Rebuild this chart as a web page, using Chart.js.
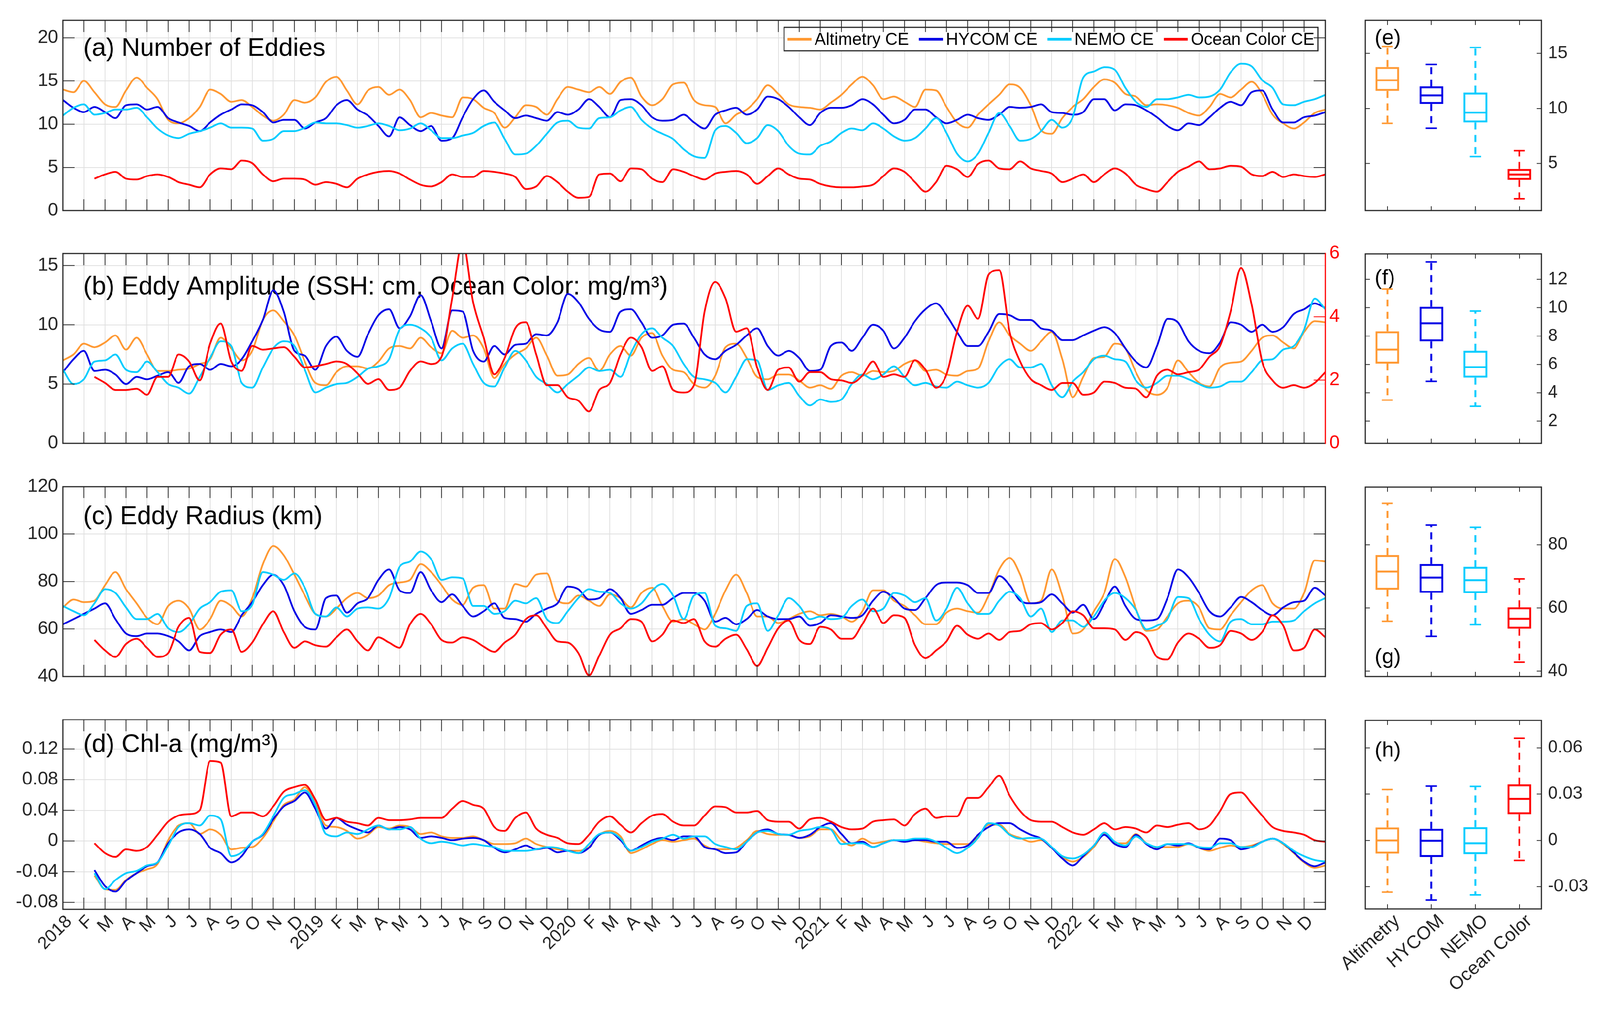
<!DOCTYPE html>
<html>
<head>
<meta charset="utf-8">
<script src="https://cdn.jsdelivr.net/npm/chart.js@4.4.1/dist/chart.umd.min.js"></script>
<style>
  html, body { margin: 0; padding: 0; background: #ffffff; overflow: hidden; }
  #fig { position: relative; width: 4146px; height: 2619px; background: #ffffff; overflow: hidden; transform-origin: 0 0; }
  #fig canvas { position: absolute; display: block; }
</style>
</head>
<body>
<div id="fig">
  <canvas id="chart-a" width="3530" height="600" style="left:0;top:0"></canvas>
  <canvas id="chart-b" width="3530" height="600" style="left:0;top:600px"></canvas>
  <canvas id="chart-c" width="3530" height="600" style="left:0;top:1200px"></canvas>
  <canvas id="chart-d" width="3530" height="819" style="left:0;top:1800px"></canvas>
  <canvas id="chart-e" width="706" height="600" style="left:3440px;top:0"></canvas>
  <canvas id="chart-f" width="706" height="600" style="left:3440px;top:600px"></canvas>
  <canvas id="chart-g" width="706" height="600" style="left:3440px;top:1200px"></canvas>
  <canvas id="chart-h" width="706" height="819" style="left:3440px;top:1800px"></canvas>
</div>
<script>
/* ==========================================================================
   Eddy statistics 2018-2022: time series (a-d) and box plots (e-h)
   ========================================================================== */

// x position of every sample, in months since Jan 2018 (half-month steps)
const halfMonths = [0,0.5,1,1.5,2,2.5,3,3.5,4,4.5,5,5.5,6,6.5,7,7.5,8,8.5,9,9.5,
  10,10.5,11,11.5,12,12.5,13,13.5,14,14.5,15,15.5,16,16.5,17,17.5,18,18.5,19,19.5,
  20,20.5,21,21.5,22,22.5,23,23.5,24,24.5,25,25.5,26,26.5,27,27.5,28,28.5,29,29.5,
  30,30.5,31,31.5,32,32.5,33,33.5,34,34.5,35,35.5,36,36.5,37,37.5,38,38.5,39,39.5,
  40,40.5,41,41.5,42,42.5,43,43.5,44,44.5,45,45.5,46,46.5,47,47.5,48,48.5,49,49.5,
  50,50.5,51,51.5,52,52.5,53,53.5,54,54.5,55,55.5,56,56.5,57,57.5,58,58.5,59,59.5,60];

const years = ["2018", "2019", "2020", "2021", "2022"];
const monthLetters = ["F", "M", "A", "M", "J", "J", "A", "S", "O", "N", "D"];

const seriesLabels = ["Altimetry CE", "HYCOM CE", "NEMO CE", "Ocean Color CE"];
const boxCategories = ["Altimetry", "HYCOM", "NEMO", "Ocean Color"];

// (a) Number of eddies
const aAlt = [14.0,13.7,15.0,13.7,12.3,12.0,13.9,15.4,14.2,12.9, 10.5,10.1,10.7,12.0,14.0,13.5,12.6,12.8,12.0,11.0,
  10.4,11.1,12.8,12.5,13.1,14.9,15.5,13.9,12.3,13.9, 14.3,13.4,14.0,12.8,10.8,11.3,11.0,10.8,13.1,12.9,
  11.9,11.3,9.6,10.8,12.2,12.0,11.1,12.9,14.3,14.0, 13.7,14.3,13.5,14.9,15.4,13.2,12.2,12.9,14.6,14.8,
  12.8,12.2,12.0,10.1,11.1,11.7,12.9,14.5,13.5,12.3, 12.0,11.9,11.7,12.5,13.4,14.6,15.5,14.5,12.9,13.2,
  12.6,12.0,14.0,13.9,12.0,10.2,9.6,11.1,12.3,13.4, 14.6,14.2,12.2,9.3,8.9,10.7,12.0,12.9,14.3,15.2,
  14.8,13.5,13.2,12.2,12.3,12.2,11.9,11.3,11.0,12.0, 13.5,13.1,14.0,14.9,13.5,11.1,10.1,9.5,10.2,11.3, 11.7];
const aHycom = [12.8,11.9,11.4,12.0,11.4,10.7,12.2,12.3,11.7,12.0, 10.7,10.2,9.8,9.2,10.2,11.1,11.7,12.3,12.2,11.4,
  10.2,10.5,10.5,9.5,10.2,10.7,12.2,12.8,11.7,11.0, 9.8,8.6,10.8,9.9,9.2,9.8,8.1,8.4,10.8,12.9,
  13.9,12.6,11.6,10.7,11.0,10.7,10.4,11.4,11.1,11.7, 12.9,12.0,10.8,12.8,12.9,12.2,10.8,10.4,10.5,11.1,
  10.2,9.5,11.1,11.6,11.9,11.1,11.7,13.2,12.9,12.0, 10.8,9.9,11.3,11.9,11.9,12.2,12.9,12.3,11.1,10.1,
  10.5,11.7,11.7,10.8,10.1,10.5,11.1,10.7,10.5,11.1, 12.0,11.9,12.0,12.3,11.4,11.3,11.1,11.4,12.9,12.9,
  11.6,12.3,12.2,11.6,10.8,9.8,9.3,10.1,9.9,10.8, 11.9,12.6,12.2,13.7,13.9,11.7,10.2,10.2,10.8,11.0, 11.4];
const aNemo = [11.0,11.9,12.3,11.1,11.3,11.7,11.7,11.9,10.8,9.5, 8.7,8.4,8.9,9.2,9.6,10.1,9.6,9.6,9.5,8.1,
  8.3,9.2,9.2,9.6,10.2,10.1,10.1,9.9,9.6,9.8, 10.1,9.8,9.3,9.5,10.1,9.3,8.4,8.4,8.7,9.0,
  9.8,10.2,8.3,6.5,6.6,7.5,8.9,10.2,10.4,9.6, 9.5,10.7,10.8,11.6,12.0,10.5,9.5,8.9,8.3,7.1,
  6.3,6.1,9.3,9.8,9.0,7.8,8.4,9.9,9.2,7.5, 6.6,6.5,7.5,8.0,9.0,9.5,9.3,10.1,9.5,8.6,
  8.1,8.4,9.5,10.7,9.0,6.6,5.7,6.6,9.0,11.3, 9.8,8.1,8.3,9.2,10.5,9.6,10.8,15.4,16.1,16.6,
  16.3,14.2,12.6,12.0,12.9,12.9,13.1,13.4,13.1,13.2, 14.0,16.0,17.0,16.7,15.1,14.2,12.3,12.2,12.6,12.9, 13.4];
const aOcean = [null,null,null,3.7,4.2,4.5,3.7,3.6,4.0,4.2, 3.9,3.3,3.0,2.7,4.2,4.9,4.8,5.8,5.5,4.2,
  3.4,3.7,3.7,3.6,3.0,3.3,3.1,2.7,3.7,4.2, 4.5,4.6,4.3,3.6,3.0,2.8,3.3,4.2,3.9,3.9,
  4.6,4.5,4.3,3.9,2.5,2.8,4.0,3.3,2.2,1.5, 1.6,4.2,4.3,3.4,4.9,4.8,3.7,3.3,4.8,4.5,
  4.0,3.6,4.3,4.5,4.6,4.2,3.1,4.0,4.9,4.2, 3.7,3.6,3.1,2.8,2.7,2.7,2.8,3.0,4.0,4.9,
  4.5,3.3,2.2,3.3,5.2,4.8,3.9,5.4,5.8,4.9, 4.8,5.7,4.9,4.6,4.3,3.3,3.7,4.2,3.3,4.2,
  4.9,4.3,3.0,2.5,2.2,3.3,4.5,5.1,5.7,4.8, 4.9,5.2,5.1,4.2,4.0,4.5,3.9,4.2,4.0,3.9, 4.2];

// (b) Eddy amplitude: SSH in cm (left axis), ocean color in mg/m3 (right axis)
const bAlt = [7.0,7.5,8.4,8.1,8.5,9.1,7.9,8.9,7.5,6.1, 6.1,6.2,6.3,6.7,7.1,8.9,8.0,7.0,7.8,10.4,
  11.2,10.3,9.1,6.9,5.1,4.9,6.0,6.5,6.5,6.3, 6.9,8.0,8.2,8.0,8.9,8.1,7.6,9.5,8.9,9.1,
  8.0,5.5,6.7,7.5,8.0,8.9,7.4,5.7,5.8,6.7, 7.2,6.1,7.5,8.2,7.4,8.9,9.3,7.4,6.2,6.0,
  5.0,4.7,5.7,8.1,8.4,7.2,5.6,5.4,5.8,5.8, 5.3,4.7,4.9,4.6,5.7,6.0,5.7,6.1,6.0,6.1,
  6.7,7.0,6.1,6.2,5.8,5.7,6.1,6.3,8.6,10.2, 9.1,8.4,7.8,8.6,9.4,7.1,3.9,5.6,7.2,7.3,
  8.4,8.0,6.0,4.5,4.1,4.7,7.0,6.0,5.1,4.8, 6.4,6.8,6.9,7.8,8.9,9.1,8.5,8.0,9.4,10.3, 10.2];
const bHycom = [6.0,7.1,7.8,6.1,6.2,5.8,5.0,5.6,5.4,5.7, 6.0,5.1,6.5,6.7,6.2,6.7,6.5,7.1,8.6,10.4,
  12.9,11.1,7.8,7.4,6.2,8.2,9.0,7.8,7.3,9.2, 10.8,11.3,9.7,10.7,12.5,10.3,8.0,11.2,11.1,7.8,
  6.9,8.2,7.5,8.3,8.4,9.2,9.1,10.2,12.6,11.9, 10.5,9.6,9.4,11.1,11.3,10.2,8.9,9.1,10.0,10.1,
  8.9,7.5,7.1,7.8,8.3,9.1,9.7,8.2,7.4,7.8, 7.2,6.1,6.2,8.2,8.5,7.8,8.9,10.0,9.5,8.0,
  8.9,10.3,11.3,11.8,10.8,9.4,8.2,8.2,9.4,10.9, 10.8,10.4,10.4,9.7,9.5,8.7,8.7,9.1,9.5,9.8,
  9.3,8.0,6.9,6.4,8.2,10.5,10.2,8.6,7.8,7.6, 8.5,10.2,10.0,9.4,10.0,9.4,9.8,10.9,11.3,11.8, 11.4];
const bNemo = [6.2,5.0,5.4,6.9,7.0,7.5,6.2,6.0,6.9,6.0, 5.0,4.7,4.2,5.6,7.2,8.6,8.2,5.1,4.7,6.4,
  8.0,8.6,8.2,6.2,4.3,4.7,5.0,5.1,5.6,6.3, 6.5,7.1,9.6,10.0,9.7,8.9,7.0,8.0,8.4,6.7,
  5.1,4.8,6.4,7.8,7.0,5.6,5.0,4.3,5.0,5.7, 6.4,6.1,6.2,5.6,7.6,9.2,9.7,8.9,8.2,6.7,
  5.6,5.4,5.1,4.3,5.6,7.1,7.0,4.5,4.9,5.1, 4.0,3.2,3.7,3.5,3.7,5.0,5.8,5.4,5.8,6.5,
  5.6,4.9,5.1,4.8,4.7,5.2,4.9,4.7,5.1,6.5, 7.1,6.4,6.4,6.7,4.9,3.9,5.2,6.0,7.1,7.4,
  7.1,6.9,5.3,4.7,5.1,5.7,5.7,5.4,5.0,4.7, 4.8,5.2,5.2,6.0,7.0,7.1,7.9,8.2,9.6,12.2, 11.3];
const bOcean = [null,null,null,2.10,1.91,1.69,1.69,1.73,1.54,2.10, 2.10,2.81,2.59,1.99,3.15,3.79,2.59,2.29,3.08,2.96,
  3.00,3.04,2.74,2.40,2.44,2.51,2.59,2.51,2.21,1.88, 2.03,1.69,1.76,2.29,2.59,2.51,2.74,4.58,6.38,4.46,
  3.34,2.18,2.70,3.64,3.83,2.81,1.84,1.84,1.46,1.35, 1.01,1.69,1.91,2.81,3.34,3.04,2.29,2.44,1.69,1.61,
  1.84,4.16,5.10,4.58,3.53,3.64,2.40,1.69,2.33,2.40, 1.95,2.25,2.25,2.03,1.99,1.91,2.14,2.59,2.10,2.18,
  2.10,2.63,2.33,1.76,2.18,3.53,4.35,3.94,5.33,5.48, 3.53,2.59,2.03,1.84,1.69,1.91,1.91,1.54,1.61,1.95,
  1.91,1.76,1.73,1.46,2.14,2.33,2.18,2.25,2.33,2.74, 3.08,4.16,5.55,4.39,2.59,1.99,1.76,1.84,1.76,1.91, 2.25];

// (c) Eddy radius (km)
const cAlt = [69.1,72.4,71.3,71.9,78.5,84.0,76.8,70.8,64.7,62.0, 69.7,71.9,68.6,59.8,64.2,71.9,69.7,65.3,73.0,87.3,
  95.0,91.1,82.9,74.1,66.4,65.3,68.6,73.0,75.2,73.0, 74.1,78.5,79.6,80.7,87.3,84.0,78.5,72.4,70.2,77.4,
  78.5,68.6,68.6,79.0,77.9,82.9,83.4,71.9,70.8,74.1, 71.9,69.7,74.6,73.0,69.1,75.2,77.4,69.7,63.1,64.2,
  62.0,59.8,66.4,76.3,82.9,75.2,65.3,65.3,62.5,64.2, 66.4,67.5,65.8,66.4,65.3,63.1,67.5,76.3,76.3,71.9,
  69.7,65.8,62.0,62.0,66.9,68.6,67.5,66.9,74.1,85.1, 90.0,82.9,70.8,71.9,85.1,74.1,58.1,59.8,67.5,75.2,
  89.5,81.8,68.6,59.2,59.8,65.3,70.8,71.9,69.1,60.3, 59.8,65.8,71.3,76.3,78.5,70.8,68.6,68.6,75.2,88.9, 88.4];
const cHycom = [62.0,64.2,66.4,68.6,70.8,64.2,58.1,57.0,58.1,58.1, 57.0,54.8,51.0,57.0,58.7,59.8,58.7,65.8,71.3,78.5,
  82.9,78.5,67.5,60.9,59.8,73.0,74.1,66.9,70.8,73.0, 80.7,85.1,76.3,75.2,84.0,76.3,71.3,74.6,69.7,65.3,
  67.5,70.8,64.7,64.2,63.1,66.4,68.6,70.8,77.9,76.8, 72.4,73.0,76.8,73.0,66.4,68.0,70.2,70.2,73.0,75.2,
  75.2,71.9,63.1,64.7,62.0,64.2,68.0,65.3,64.2,64.2, 65.3,61.4,62.5,65.8,65.3,64.7,65.8,71.9,75.7,73.0,
  68.6,68.0,73.0,78.5,79.6,79.6,78.5,75.2,75.2,82.3, 78.5,71.9,70.8,71.3,74.6,70.8,66.9,70.2,64.2,70.8,
  77.9,69.7,64.2,63.6,64.2,73.0,85.1,81.8,75.2,67.5, 65.3,69.1,73.5,71.3,68.0,65.8,69.1,71.3,71.9,77.4, 74.1];
const cNemo = [69.7,67.5,65.8,70.8,76.8,75.2,69.1,64.2,64.2,66.4, 60.3,58.7,62.0,68.6,71.3,75.7,76.3,67.5,70.2,84.0,
  82.9,80.7,83.4,77.4,66.4,65.3,69.1,65.3,68.6,69.1, 68.6,73.0,86.2,88.4,92.7,89.5,80.7,81.8,81.3,69.7,
  69.7,66.4,67.5,71.9,70.8,73.0,64.2,62.5,67.5,73.0, 76.8,75.7,75.2,70.8,68.6,70.8,76.3,79.0,74.1,64.2,
  74.1,75.2,61.4,60.3,59.2,69.7,70.8,59.2,65.8,73.0, 69.7,64.2,65.3,64.2,64.7,69.7,72.4,67.5,68.6,75.2,
  74.1,71.3,73.0,63.6,68.6,77.4,70.8,66.4,66.4,71.9, 75.7,73.0,65.3,68.6,58.7,63.6,63.6,60.9,65.3,71.9,
  75.2,73.0,68.0,59.8,61.4,64.2,73.5,73.0,64.2,57.6, 54.8,63.1,64.2,62.0,62.0,63.1,63.1,63.6,67.5,70.8, 73.0];
const cOcean = [null,null,null,55.4,51.0,48.2,53.7,55.9,52.1,48.2, 49.9,60.9,64.7,50.4,49.9,57.6,59.8,50.4,54.3,62.0,
  67.5,58.7,52.1,54.8,53.2,52.6,56.5,59.8,54.8,51.0, 56.5,54.3,52.1,62.0,66.4,62.0,55.4,54.3,56.5,55.4,
  52.6,50.4,54.3,57.6,64.2,65.8,60.3,54.8,54.3,49.9, 40.5,48.8,57.6,60.3,64.2,63.1,54.8,57.6,63.6,62.5,
  64.2,54.8,52.6,55.9,57.6,51.5,44.4,52.1,60.3,63.6, 55.4,53.7,60.9,59.8,55.9,55.9,62.0,68.6,62.5,65.8,
  64.7,53.2,47.7,51.0,54.8,61.4,57.6,55.9,58.1,55.4, 58.7,59.2,62.0,62.5,59.8,62.5,67.5,65.8,60.3,60.3,
  59.8,55.4,58.7,56.5,48.2,47.1,54.3,58.1,55.9,52.1, 53.2,59.2,58.1,55.4,58.7,65.8,61.4,51.0,52.1,59.8, 56.5];

// (d) Chl-a anomaly (mg/m3)
const dAlt = [null,null,null,-0.045,-0.063,-0.064,-0.051,-0.042,-0.037,-0.030, 0.001,0.020,0.023,0.009,0.015,0.008,-0.011,-0.009,-0.008,0.004,
  0.025,0.047,0.054,0.070,0.049,0.020,0.018,0.013,0.003,0.008, 0.018,0.016,0.020,0.018,0.009,0.011,0.006,0.004,0.004,0.006,
  0.001,-0.004,-0.004,-0.003,0.003,-0.004,-0.008,-0.011,-0.013,-0.013, -0.008,0.008,0.013,0.006,-0.016,-0.011,-0.004,0.001,-0.001,0.001,
  0.003,-0.006,-0.011,-0.011,-0.009,0.001,0.013,0.009,0.008,0.008, 0.004,0.006,0.015,0.015,0.001,-0.006,0.003,-0.003,-0.001,0.001,
  -0.001,0.001,-0.001,-0.003,-0.004,-0.004,-0.004,0.006,0.021,0.021, 0.009,0.004,-0.001,0.001,-0.009,-0.021,-0.027,-0.021,-0.008,0.009,
  -0.003,-0.003,0.009,-0.003,-0.009,-0.008,-0.008,-0.004,-0.009,-0.013, -0.009,-0.006,-0.008,-0.006,-0.001,0.003,-0.004,-0.016,-0.028,-0.035, -0.032];
const dHycom = [null,null,null,-0.038,-0.059,-0.066,-0.052,-0.042,-0.033,-0.028, -0.003,0.011,0.015,0.009,-0.009,-0.016,-0.028,-0.020,-0.001,0.008,
  0.028,0.045,0.052,0.063,0.042,0.016,0.030,0.021,0.015,0.011, 0.020,0.015,0.018,0.015,0.004,0.006,0.004,0.001,0.003,0.004,
  0.001,-0.009,-0.015,-0.011,-0.006,-0.011,-0.009,-0.015,-0.013,-0.016, -0.009,0.008,0.011,0.001,-0.013,-0.006,0.001,0.004,0.001,0.006,
  0.006,-0.008,-0.011,-0.016,-0.015,-0.001,0.011,0.015,0.009,0.008, 0.004,0.008,0.018,0.023,0.009,-0.003,-0.001,-0.008,-0.003,0.001,
  -0.001,0.001,0.001,-0.001,-0.001,-0.009,-0.006,0.008,0.018,0.023, 0.023,0.015,0.008,0.003,-0.009,-0.023,-0.032,-0.020,-0.006,0.008,
  -0.004,-0.008,0.008,-0.004,-0.011,-0.004,-0.006,-0.003,-0.009,-0.011, 0.003,0.001,-0.011,-0.008,-0.001,0.003,-0.003,-0.015,-0.027,-0.033, -0.028];
const dNemo = [null,null,null,-0.042,-0.063,-0.051,-0.042,-0.039,-0.032,-0.028, -0.006,0.018,0.023,0.020,0.033,0.028,-0.020,-0.015,-0.001,0.009,
  0.032,0.056,0.061,0.066,0.047,0.009,0.006,0.011,0.009,0.015, 0.020,0.015,0.015,0.018,0.003,-0.003,-0.001,-0.003,-0.006,-0.004,
  -0.006,-0.008,-0.013,-0.013,-0.013,-0.011,-0.008,-0.009,-0.013,-0.016, -0.004,0.009,0.011,0.003,-0.013,-0.008,-0.001,0.003,0.008,0.003,
  0.006,0.006,-0.004,-0.008,-0.011,-0.001,0.011,0.013,0.009,0.008, 0.013,0.015,0.018,0.015,-0.004,-0.003,-0.003,-0.008,-0.003,0.001,
  0.001,0.003,0.003,-0.001,-0.009,-0.016,-0.009,0.004,0.023,0.020, 0.008,0.003,0.004,0.003,-0.008,-0.020,-0.023,-0.018,-0.006,0.011,
  -0.001,-0.006,0.006,-0.003,-0.008,-0.004,-0.004,-0.004,-0.008,-0.009, -0.003,-0.003,-0.008,-0.008,-0.001,0.003,-0.003,-0.013,-0.020,-0.025, -0.027];
const dOcean = [null,null,null,-0.003,-0.016,-0.021,-0.011,-0.013,-0.008,0.008, 0.025,0.033,0.035,0.040,0.104,0.102,0.032,0.037,0.037,0.032,
  0.045,0.064,0.070,0.073,0.054,0.027,0.030,0.025,0.023,0.020, 0.030,0.027,0.027,0.028,0.030,0.030,0.030,0.042,0.052,0.047,
  0.042,0.018,0.013,0.030,0.037,0.016,0.008,0.004,-0.003,-0.004, 0.008,0.025,0.032,0.021,0.011,0.023,0.033,0.035,0.025,0.020,
  0.020,0.033,0.045,0.044,0.037,0.037,0.039,0.027,0.025,0.025, 0.016,0.028,0.030,0.025,0.018,0.015,0.016,0.025,0.027,0.028,
  0.020,0.035,0.042,0.030,0.032,0.032,0.056,0.056,0.070,0.085, 0.059,0.039,0.027,0.025,0.025,0.018,0.011,0.008,0.015,0.023,
  0.015,0.018,0.016,0.011,0.020,0.018,0.021,0.023,0.015,0.020, 0.039,0.061,0.063,0.049,0.033,0.018,0.013,0.011,0.008,0.001, -0.001];

// Box plot statistics per category: [lower whisker, q1, median, q3, upper whisker]
const eStats = [[8.64, 11.59, 12.56, 13.77, 15.64], [8.2, 10.41, 11.18, 12.0, 14.0], [5.62, 8.72, 9.62, 11.44, 15.54], [1.79, 3.49, 4.0, 4.51, 6.15]];
const fStats = [[3.48, 6.06, 7.04, 8.34, 11.32], [4.8, 7.62, 8.9, 10.06, 13.24], [3.04, 5.06, 5.8, 6.96, 9.76], null];
const gStats = [[55.8, 65.8, 71.5, 76.8, 93.1], [51.0, 64.8, 69.6, 73.9, 86.3], [54.7, 64.7, 68.8, 73.0, 85.6], [42.8, 53.4, 56.6, 60.2, 69.2]];
const hStats = [[-0.0335, -0.0086, 0, 0.0084, 0.0329], [-0.0386, -0.0108, -0.0002, 0.0075, 0.0351], [-0.0353, -0.009, -0.0018, 0.0086, 0.0349], [-0.013, 0.017, 0.0269, 0.0362, 0.0662]];

// Y tick values
const aTicks = [0, 5, 10, 15, 20];
const bTicks = [0, 5, 10, 15];
const bRightTicks = [0, 2, 4, 6];
const cTicks = [40, 60, 80, 100, 120];
const dTicks = [-0.08, -0.04, 0, 0.04, 0.08, 0.12];
const eTicks = [5, 10, 15];
const fTicks = [2, 4, 6, 8, 10, 12];
const gTicks = [40, 60, 80];
const hTicks = [-0.03, 0, 0.03, 0.06];

const COLORS = { alt: "#ff9933", hycom: "#0000e6", nemo: "#00ccff", ocean: "#ff0000" };
const AXIS = "#262626";
const GRID = "#dfdfdf";
const FONT = "'Liberation Sans', Arial, Helvetica, sans-serif";

Chart.defaults.font.family = FONT;
Chart.defaults.color = AXIS;

// Fit the 4146 x 2619 figure into the visible viewport.
(function fitFigure() {
  const vw = document.documentElement.clientWidth || window.innerWidth;
  const vh = document.documentElement.clientHeight || window.innerHeight;
  const s = Math.min(vw / 4146, vh / 2619);
  if (s > 0 && Math.abs(s - 1) > 0.002) {
    document.getElementById("fig").style.transform = `scale(${s})`;
  }
})();

// Month tick labels: year at January, letter for the other months
const xTickLabels = years.flatMap((y) => [y, ...monthLetters]);
const monthTickValues = xTickLabels.map((_, i) => i).concat([xTickLabels.length]);

const fmt2 = (v) => (v === 0 ? "0" : v.toFixed(2));

/** Inward ticks and the axis box (MATLAB style). */
const framePlugin = {
  id: "frame",
  afterDraw(chart, args, o) {
    const { ctx, chartArea: a, scales } = chart;
    const seg = (x1, y1, x2, y2) => { ctx.beginPath(); ctx.moveTo(x1, y1); ctx.lineTo(x2, y2); ctx.stroke(); };
    ctx.save();
    ctx.lineWidth = 2;
    ctx.strokeStyle = AXIS;
    scales.x.ticks.forEach((t, i) => {
      const px = scales.x.getPixelForTick(i);
      seg(px, a.top, px, a.top + o.tickLen);
      seg(px, a.bottom, px, a.bottom - o.tickLen);
    });
    scales.y.ticks.forEach((t) => {
      const py = scales.y.getPixelForValue(t.value);
      seg(a.left, py, a.left + o.tickLen, py);
      if (!scales.y2) seg(a.right, py, a.right - o.tickLen, py);
    });
    if (scales.y2) {
      ctx.strokeStyle = o.rightColor;
      scales.y2.ticks.forEach((t) => {
        const py = scales.y2.getPixelForValue(t.value);
        seg(a.right, py, a.right - o.tickLen, py);
      });
    }
    ctx.lineWidth = 3;
    ctx.strokeStyle = AXIS;
    ctx.beginPath();
    ctx.moveTo(a.right, a.top); ctx.lineTo(a.left, a.top); ctx.lineTo(a.left, a.bottom); ctx.lineTo(a.right, a.bottom);
    ctx.stroke();
    ctx.strokeStyle = o.rightColor || AXIS;
    seg(a.right, a.top - 1.5, a.right, a.bottom + 1.5);
    ctx.restore();
  }
};

/** Panel label written inside the plot area, under the data lines. */
const panelTitlePlugin = {
  id: "panelTitle",
  beforeDatasetsDraw(chart, args, o) {
    const { ctx, chartArea: a } = chart;
    ctx.save();
    ctx.font = `${o.size}px ${FONT}`;
    ctx.fillStyle = "#000000";
    ctx.textBaseline = "alphabetic";
    ctx.textAlign = "left";
    ctx.fillText(o.text, a.left + o.dx, a.top + o.dy);
    ctx.restore();
  }
};

/** Boxed one-row legend in the top right corner of the plot area. */
const boxLegendPlugin = {
  id: "boxLegend",
  afterDatasetsDraw(chart, args, o) {
    if (!o.show) return;
    const { ctx, chartArea: a } = chart;
    ctx.save();
    ctx.font = `${o.size}px ${FONT}`;
    const lineLen = 62, gap = 8, spacing = 26, padX = 9;
    const items = chart.data.datasets.map((d) => ({ label: d.label, color: d.borderColor, w: ctx.measureText(d.label).width }));
    const total = padX * 2 + items.reduce((s, it) => s + lineLen + gap + it.w, 0) + spacing * (items.length - 1);
    const right = a.right - o.dxRight;
    const left = right - total;
    const top = a.top + o.dy;
    ctx.fillStyle = "#ffffff";
    ctx.fillRect(left, top, total, o.h);
    ctx.lineWidth = 3;
    ctx.strokeStyle = AXIS;
    ctx.strokeRect(left, top, total, o.h);
    let x = left + padX;
    const cy = top + o.h / 2;
    ctx.textBaseline = "middle";
    items.forEach((it) => {
      ctx.strokeStyle = it.color;
      ctx.lineWidth = 7;
      ctx.beginPath(); ctx.moveTo(x, cy); ctx.lineTo(x + lineLen, cy); ctx.stroke();
      ctx.fillStyle = "#000000";
      ctx.fillText(it.label, x + lineLen + gap, cy + 2);
      x += lineLen + gap + it.w + spacing;
    });
    ctx.restore();
  }
};

/** Median line, dashed whiskers and caps for the floating-bar boxes. */
const whiskerPlugin = {
  id: "whiskers",
  afterDatasetsDraw(chart) {
    const { ctx } = chart;
    const y = chart.scales.y;
    const ds = chart.data.datasets[0];
    const meta = chart.getDatasetMeta(0);
    const seg = (x1, y1, x2, y2) => { ctx.beginPath(); ctx.moveTo(x1, y1); ctx.lineTo(x2, y2); ctx.stroke(); };
    ctx.save();
    meta.data.forEach((bar, i) => {
      const s = ds.stats[i];
      if (!s) return;
      const [low, q1, med, q3, high] = s;
      const half = bar.width / 2;
      const cap = bar.width * 0.235;
      ctx.strokeStyle = ds.borderColor[i];
      ctx.setLineDash([]);
      ctx.lineWidth = 5;
      seg(bar.x - half + 2, y.getPixelForValue(med), bar.x + half - 2, y.getPixelForValue(med));
      ctx.setLineDash([18, 14]);
      seg(bar.x, y.getPixelForValue(q3), bar.x, y.getPixelForValue(high));
      seg(bar.x, y.getPixelForValue(q1), bar.x, y.getPixelForValue(low));
      ctx.setLineDash([]);
      ctx.lineWidth = 4;
      seg(bar.x - cap, y.getPixelForValue(high), bar.x + cap, y.getPixelForValue(high));
      seg(bar.x - cap, y.getPixelForValue(low), bar.x + cap, y.getPixelForValue(low));
    });
    ctx.restore();
  }
};

/** Fixes an axis' size so every panel keeps the same plot area. */
function fixAxisHeight(h) {
  return (sc) => { sc.height = h; sc.paddingLeft = 0; sc.paddingRight = 0; };
}

/** Creates one of the time-series panels (a)-(d). */
function makeLinePanel(id, p) {
  const colors = [COLORS.alt, COLORS.hycom, COLORS.nemo, COLORS.ocean];
  const datasets = p.series.map((values, i) => ({
    label: seriesLabels[i],
    data: halfMonths.map((x, k) => ({ x, y: values[k] })),
    borderColor: colors[i],
    backgroundColor: colors[i],
    borderWidth: 4.5,
    pointRadius: 0,
    cubicInterpolationMode: "monotone",
    spanGaps: false,
    order: 4 - i,
    yAxisID: i === 3 && p.right ? "y2" : "y"
  }));

  const scales = {
    x: {
      type: "linear",
      min: 0,
      max: 60,
      afterBuildTicks: (sc) => { sc.ticks = monthTickValues.map((v) => ({ value: v })); },
      afterFit: fixAxisHeight(p.xAxisHeight),
      grid: { color: GRID, lineWidth: 2, drawTicks: false },
      border: { display: false },
      ticks: {
        display: !!p.showDates,
        autoSkip: false,
        minRotation: 45,
        maxRotation: 45,
        padding: 6,
        labelOffset: 16,
        font: { size: 46 },
        color: AXIS,
        callback: (v) => xTickLabels[v] ?? ""
      }
    },
    y: {
      min: p.yMin,
      max: p.yMax,
      afterBuildTicks: (sc) => { sc.ticks = p.yTicks.map((v) => ({ value: v })); },
      afterFit: (sc) => { sc.width = 163; },
      grid: { color: GRID, lineWidth: 2, drawTicks: false },
      border: { display: false },
      ticks: { padding: 12, font: { size: 48 }, color: AXIS, callback: p.fmt || ((v) => String(v)) }
    }
  };
  if (p.right) {
    scales.y2 = {
      position: "right",
      min: p.right.min,
      max: p.right.max,
      afterBuildTicks: (sc) => { sc.ticks = p.right.ticks.map((v) => ({ value: v })); },
      afterFit: (sc) => { sc.width = 96; },
      grid: { display: false, drawTicks: false },
      border: { display: false },
      ticks: { padding: 11, font: { size: 48 }, color: COLORS.ocean }
    };
  }

  return new Chart(document.getElementById(id).getContext("2d"), {
    type: "line",
    data: { datasets },
    options: {
      responsive: false,
      animation: false,
      devicePixelRatio: 1,
      layout: { padding: { top: p.padTop, right: p.right ? 0 : 96, left: 0, bottom: 0 } },
      scales,
      plugins: {
        legend: { display: false },
        tooltip: { enabled: false },
        frame: { tickLen: 30, rightColor: p.right ? COLORS.ocean : AXIS },
        panelTitle: { text: p.title, size: 66, dx: 53, dy: p.titleDy },
        boxLegend: { show: !!p.legend, size: 44, dxRight: 19, dy: 18, h: 61 }
      }
    },
    plugins: [panelTitlePlugin, boxLegendPlugin, framePlugin]
  });
}

/** Creates one of the box-plot panels (e)-(h). */
function makeBoxPanel(id, p) {
  const colors = [COLORS.alt, COLORS.hycom, COLORS.nemo, COLORS.ocean];
  return new Chart(document.getElementById(id).getContext("2d"), {
    type: "bar",
    data: {
      labels: boxCategories,
      datasets: [{
        data: p.stats.map((s) => (s ? [s[1], s[3]] : null)),
        stats: p.stats,
        borderColor: colors,
        backgroundColor: "rgba(0,0,0,0)",
        borderWidth: 5,
        borderSkipped: false,
        barPercentage: 0.54,
        categoryPercentage: 1
      }]
    },
    options: {
      responsive: false,
      animation: false,
      devicePixelRatio: 1,
      layout: { padding: { top: p.padTop, left: 98, right: 0, bottom: 0 } },
      scales: {
        x: {
          afterFit: fixAxisHeight(p.xAxisHeight),
          grid: { display: false, drawTicks: false },
          border: { display: false },
          ticks: {
            display: !!p.showLabels,
            autoSkip: false,
            minRotation: 42,
            maxRotation: 42,
            padding: 4,
            labelOffset: 26,
            font: { size: 48 },
            color: AXIS
          }
        },
        y: {
          position: "right",
          min: p.yMin,
          max: p.yMax,
          afterBuildTicks: (sc) => { sc.ticks = p.yTicks.map((v) => ({ value: v })); },
          afterFit: (sc) => { sc.width = 152; },
          grid: { display: false, drawTicks: false },
          border: { display: false },
          ticks: { padding: 17, font: { size: 46 }, color: AXIS, callback: p.fmt || ((v) => String(v)) }
        }
      },
      plugins: {
        legend: { display: false },
        tooltip: { enabled: false },
        frame: { tickLen: 12 },
        panelTitle: { text: p.title, size: 56, dx: 24, dy: p.titleDy }
      }
    },
    plugins: [panelTitlePlugin, whiskerPlugin, framePlugin]
  });
}

makeLinePanel("chart-a", {
  series: [aAlt, aHycom, aNemo, aOcean], yMin: 0, yMax: 22, yTicks: aTicks,
  padTop: 53, xAxisHeight: 54, title: "(a) Number of Eddies", titleDy: 92, legend: true
});
makeLinePanel("chart-b", {
  series: [bAlt, bHycom, bNemo, bOcean], yMin: 0, yMax: 16, yTicks: bTicks,
  right: { min: 0, max: 6, ticks: bRightTicks },
  padTop: 57, xAxisHeight: 51, title: "(b) Eddy Amplitude (SSH: cm, Ocean Color: mg/m³)", titleDy: 106
});
makeLinePanel("chart-c", {
  series: [cAlt, cHycom, cNemo, cOcean], yMin: 40, yMax: 120, yTicks: cTicks,
  padTop: 61, xAxisHeight: 47, title: "(c) Eddy Radius (km)", titleDy: 97
});
makeLinePanel("chart-d", {
  series: [dAlt, dHycom, dNemo, dOcean], yMin: -0.089, yMax: 0.158, yTicks: dTicks, fmt: fmt2,
  padTop: 65, xAxisHeight: 263, title: "(d) Chl-a (mg/m³)", titleDy: 84, showDates: true
});

makeBoxPanel("chart-e", { stats: eStats, yMin: 0.7, yMax: 18, yTicks: eTicks, padTop: 53, xAxisHeight: 54, title: "(e)", titleDy: 62 });
makeBoxPanel("chart-f", { stats: fStats, yMin: 0.42, yMax: 13.8, yTicks: fTicks, padTop: 58, xAxisHeight: 51, title: "(f)", titleDy: 79 });
makeBoxPanel("chart-g", { stats: gStats, yMin: 38.3, yMax: 98.3, yTicks: gTicks, padTop: 62, xAxisHeight: 47, title: "(g)", titleDy: 457 });
makeBoxPanel("chart-h", { stats: hStats, yMin: -0.0443, yMax: 0.0777, yTicks: hTicks, fmt: fmt2, padTop: 67, xAxisHeight: 264, title: "(h)", titleDy: 94, showLabels: true });
</script>
</body>
</html>
